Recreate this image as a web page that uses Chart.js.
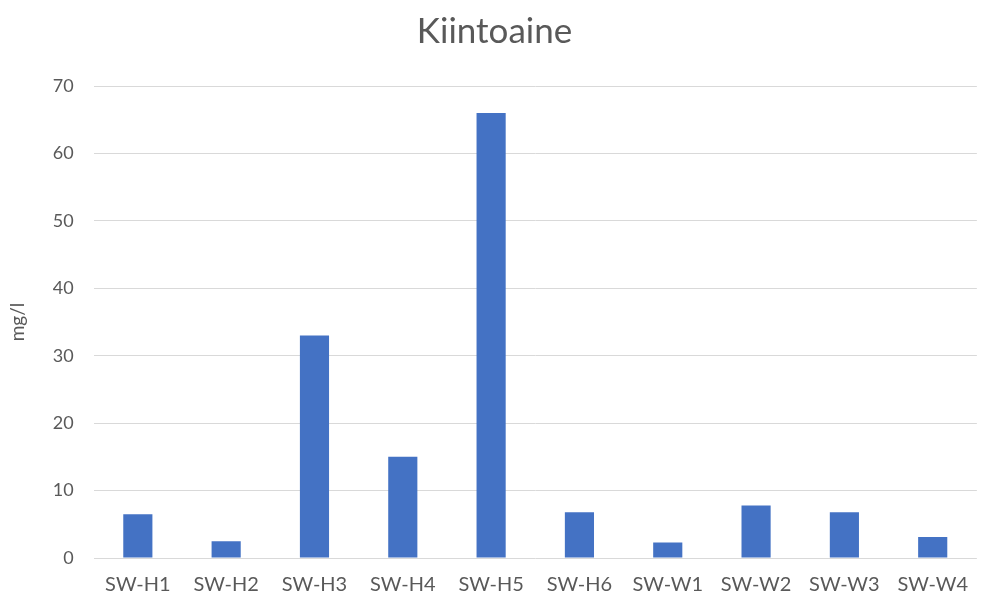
<!DOCTYPE html>
<html>
<head>
<meta charset="utf-8">
<script src="https://cdn.jsdelivr.net/npm/chart.js@4/dist/chart.umd.min.js"></script>
<style>
  html, body { margin: 0; padding: 0; background: #fff; }
  #wrap { width: 983px; height: 599px; }
</style>
</head>
<body>
<div id="wrap"><canvas id="graphCanvas"></canvas></div>
<script>
// ---- data ----
const paikat = ['SW-H1', 'SW-H2', 'SW-H3', 'SW-H4', 'SW-H5', 'SW-H6', 'SW-W1', 'SW-W2', 'SW-W3', 'SW-W4'];
const kiintoaine = [6.5, 2.5, 33, 15, 66, 6.8, 2.3, 7.8, 6.8, 3.1];
const yTicks = [0, 10, 20, 30, 40, 50, 60, 70];

const grey = '#595959';
const fontName = 'Lato';

// SETUP BLOCK
const data = {
    labels: paikat,
    datasets: [{
        data: kiintoaine,
        backgroundColor: '#4472c4',
        barPercentage: 0.66,
        categoryPercentage: 0.5
    }]
};

// CONFIG BLOCK
const config = {
    type: 'bar',
    data,
    options: {
        responsive: true,
        maintainAspectRatio: false,
        animation: false,
        layout: { padding: { top: 0, right: 0, bottom: -13, left: 6 } },
        plugins: {
            legend: { display: false },
            tooltip: { enabled: false },
            title: {
                display: true,
                text: 'Kiintoaine',
                color: grey,
                font: { family: fontName, size: 35, weight: 'normal' },
                padding: { top: 11, bottom: 33 }
            }
        },
        scales: {
            x: {
                grid: { display: false, drawTicks: false },
                border: { display: false },
                ticks: { color: grey, font: { family: fontName, size: 20 }, padding: 15, maxRotation: 0 }
            },
            y: {
                min: 0,
                max: 70,
                afterBuildTicks: axis => { axis.ticks = yTicks.map(v => ({ value: v })); },
                grid: { color: '#d9d9d9', lineWidth: 1, drawTicks: false },
                border: { display: false },
                ticks: { color: grey, font: { family: fontName, size: 18 }, padding: 20 },
                title: {
                    display: true,
                    text: 'mg/l',
                    color: grey,
                    font: { family: fontName, size: 19 },
                    padding: { top: 0, bottom: 4 }
                }
            }
        }
    }
};

// RENDER BLOCK
const graphCanvas = new Chart(
    document.getElementById('graphCanvas').getContext('2d'),
    config
);
</script>
</body>
</html>
